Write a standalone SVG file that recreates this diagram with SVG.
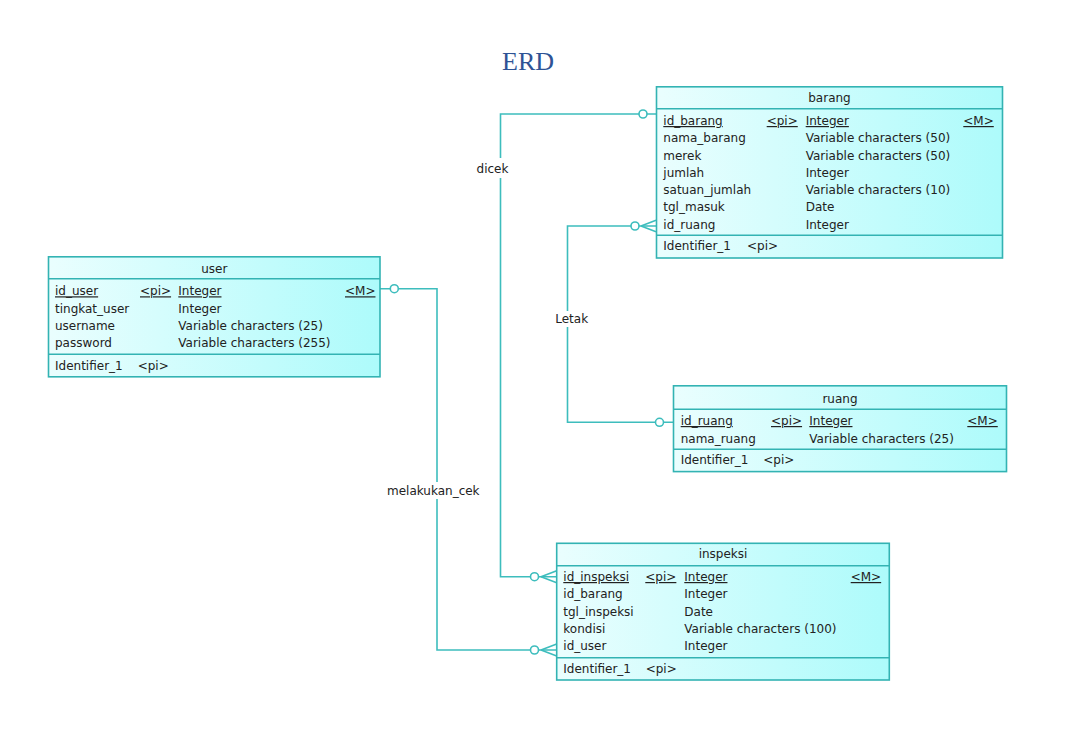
<svg xmlns="http://www.w3.org/2000/svg" width="1080" height="748" viewBox="0 0 1080 748">
<defs>
<linearGradient id="g" x1="0" y1="0" x2="1" y2="0">
<stop offset="0" stop-color="#eafefe"/>
<stop offset="1" stop-color="#adfbfb"/>
</linearGradient>
<style>
.box{fill:url(#g);stroke:#33b3b3;stroke-width:1.6}
.sep{stroke:#33b3b3;stroke-width:1.6}
.t{font-family:"DejaVu Sans",Verdana,sans-serif;font-size:12px;fill:#222}
.h{text-anchor:middle}
.u{text-decoration:underline}
.ln{fill:none;stroke:#3dbdbd;stroke-width:1.6}
.c{fill:#fff;stroke:#3dbdbd;stroke-width:1.6}
.lbl{font-family:"DejaVu Sans",Verdana,sans-serif;font-size:12px;fill:#222;text-anchor:middle}
</style>
</defs>
<rect width="1080" height="748" fill="#fff"/>
<text x="528" y="69.5" font-family="Liberation Serif,serif" font-size="26" fill="#2e5395" text-anchor="middle">ERD</text>

<g id="connectors">
<g id="dicek">
<polyline class="ln" points="656,114 500.5,114 500.5,158"/>
<polyline class="ln" points="500.5,178 500.5,576.7 556.7,576.7"/>
<path class="ln" d="M541,576.7 L556.7,570.7 M541,576.7 L556.7,582.7"/>
<circle class="c" cx="643" cy="114" r="4"/>
<circle class="c" cx="534.5" cy="576.7" r="4"/>
<text class="lbl" x="492.5" y="172.5">dicek</text>
</g>
<g id="letak">
<polyline class="ln" points="656,226 567.5,226 567.5,311"/>
<polyline class="ln" points="567.5,327 567.5,422.3 673.3,422.3"/>
<path class="ln" d="M641,226 L656,220.3 M641,226 L656,231.7"/>
<circle class="c" cx="635" cy="226" r="4"/>
<circle class="c" cx="659.5" cy="422.3" r="4"/>
<text class="lbl" x="571.7" y="322.5">Letak</text>
</g>
<g id="melakukan_cek">
<polyline class="ln" points="380,288.7 437,288.7 437,482"/>
<polyline class="ln" points="437,499 437,650 556.7,650"/>
<path class="ln" d="M541,650 L556.7,644 M541,650 L556.7,656"/>
<circle class="c" cx="394.3" cy="288.7" r="4"/>
<circle class="c" cx="534.5" cy="650" r="4"/>
<text class="lbl" x="433.3" y="495">melakukan_cek</text>
</g>
</g>

<g id="barang">
<rect class="box" x="656.5" y="86.8" width="346" height="171.2"/>
<line class="sep" x1="656.5" y1="108.8" x2="1002.5" y2="108.8"/>
<line class="sep" x1="656.5" y1="235.3" x2="1002.5" y2="235.3"/>
<text class="t h" x="829.5" y="101.8">barang</text>
<text class="t u" x="663.3" y="125">id_barang</text>
<text class="t u" x="766.7" y="125">&lt;pi&gt;</text>
<text class="t u" x="805.7" y="125">Integer</text>
<text class="t u" x="963.3" y="125">&lt;M&gt;</text>
<text class="t" x="663.3" y="142.3">nama_barang</text>
<text class="t" x="805.7" y="142.3">Variable characters (50)</text>
<text class="t" x="663.3" y="159.6">merek</text>
<text class="t" x="805.7" y="159.6">Variable characters (50)</text>
<text class="t" x="663.3" y="176.8">jumlah</text>
<text class="t" x="805.7" y="176.8">Integer</text>
<text class="t" x="663.3" y="194.1">satuan_jumlah</text>
<text class="t" x="805.7" y="194.1">Variable characters (10)</text>
<text class="t" x="663.3" y="211.3">tgl_masuk</text>
<text class="t" x="805.7" y="211.3">Date</text>
<text class="t" x="663.3" y="228.6">id_ruang</text>
<text class="t" x="805.7" y="228.6">Integer</text>
<text class="t" x="663.3" y="250">Identifier_1</text>
<text class="t" x="747" y="250">&lt;pi&gt;</text>
</g>

<g id="user">
<rect class="box" x="48.5" y="256.8" width="331.5" height="120"/>
<line class="sep" x1="48.5" y1="278.7" x2="380" y2="278.7"/>
<line class="sep" x1="48.5" y1="354.3" x2="380" y2="354.3"/>
<text class="t h" x="214.3" y="272.6">user</text>
<text class="t u" x="55" y="295.3">id_user</text>
<text class="t u" x="140" y="295.3">&lt;pi&gt;</text>
<text class="t u" x="178.3" y="295.3">Integer</text>
<text class="t u" x="345" y="295.3">&lt;M&gt;</text>
<text class="t" x="55" y="312.6">tingkat_user</text>
<text class="t" x="178.3" y="312.6">Integer</text>
<text class="t" x="55" y="330.3">username</text>
<text class="t" x="178.3" y="330.3">Variable characters (25)</text>
<text class="t" x="55" y="347">password</text>
<text class="t" x="178.3" y="347">Variable characters (255)</text>
<text class="t" x="55" y="370">Identifier_1</text>
<text class="t" x="137.7" y="370">&lt;pi&gt;</text>
</g>

<g id="ruang">
<rect class="box" x="673.5" y="385.8" width="333" height="85.8"/>
<line class="sep" x1="673.5" y1="409.3" x2="1006.5" y2="409.3"/>
<line class="sep" x1="673.5" y1="449.3" x2="1006.5" y2="449.3"/>
<text class="t h" x="840" y="402.6">ruang</text>
<text class="t u" x="680.7" y="425">id_ruang</text>
<text class="t u" x="771" y="425">&lt;pi&gt;</text>
<text class="t u" x="809.3" y="425">Integer</text>
<text class="t u" x="967.3" y="425">&lt;M&gt;</text>
<text class="t" x="680.7" y="442.6">nama_ruang</text>
<text class="t" x="809.3" y="442.6">Variable characters (25)</text>
<text class="t" x="680.7" y="464.3">Identifier_1</text>
<text class="t" x="763.3" y="464.3">&lt;pi&gt;</text>
</g>

<g id="inspeksi">
<rect class="box" x="556.7" y="543.3" width="332.6" height="136.7"/>
<line class="sep" x1="556.7" y1="565.7" x2="889.3" y2="565.7"/>
<line class="sep" x1="556.7" y1="657.7" x2="889.3" y2="657.7"/>
<text class="t h" x="723" y="558.3">inspeksi</text>
<text class="t u" x="563.3" y="581">id_inspeksi</text>
<text class="t u" x="645.3" y="581">&lt;pi&gt;</text>
<text class="t u" x="684.3" y="581">Integer</text>
<text class="t u" x="850.7" y="581">&lt;M&gt;</text>
<text class="t" x="563.3" y="598.3">id_barang</text>
<text class="t" x="684.3" y="598.3">Integer</text>
<text class="t" x="563.3" y="616">tgl_inspeksi</text>
<text class="t" x="684.3" y="616">Date</text>
<text class="t" x="563.3" y="633.3">kondisi</text>
<text class="t" x="684.3" y="633.3">Variable characters (100)</text>
<text class="t" x="563.3" y="650.3">id_user</text>
<text class="t" x="684.3" y="650.3">Integer</text>
<text class="t" x="563.3" y="672.6">Identifier_1</text>
<text class="t" x="645.7" y="672.6">&lt;pi&gt;</text>
</g>
</svg>
